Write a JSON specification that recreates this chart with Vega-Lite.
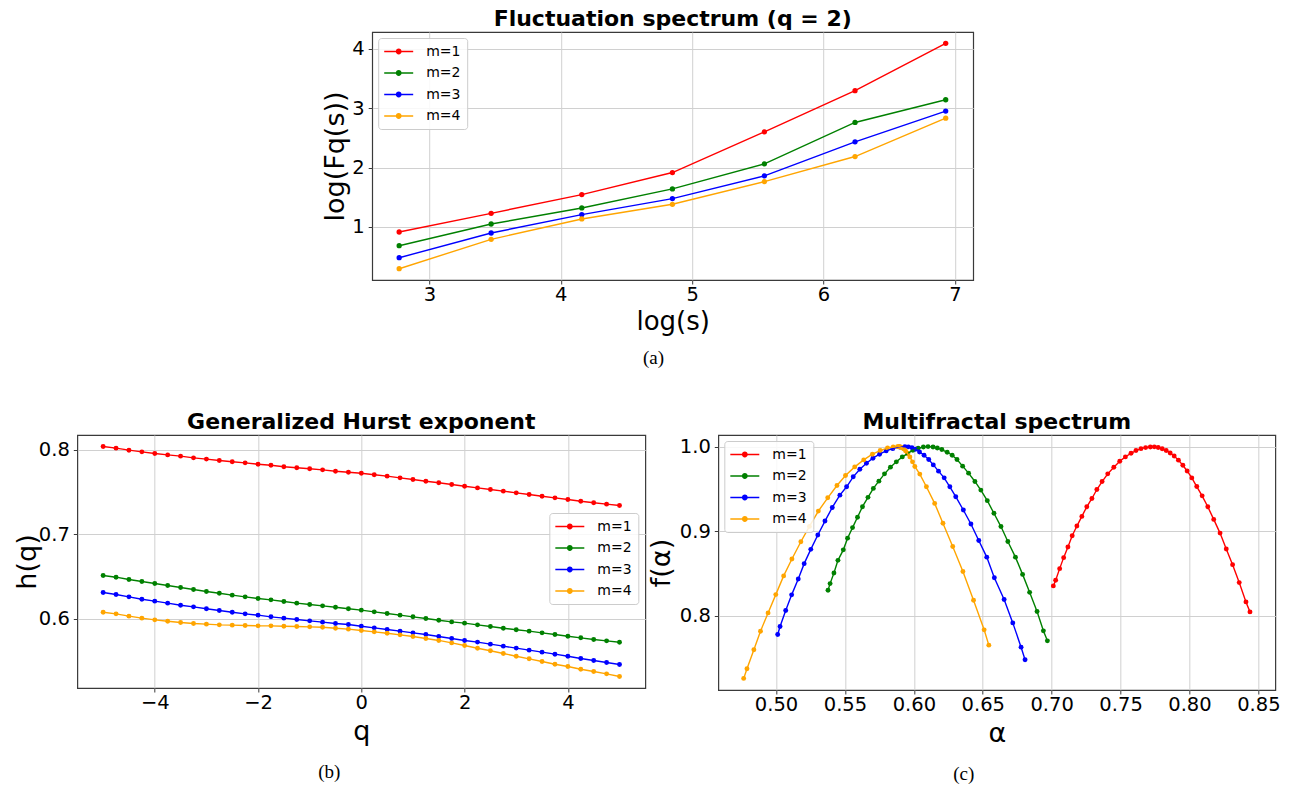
{
  "$schema": "https://vega.github.io/schema/vega-lite/v6.json",
  "padding": {"left": 12, "top": 7, "right": 0, "bottom": 0},
  "background": "white",
  "datasets": {
    "fluct": [
      {"m": "m=1", "x": 2.77, "y": 0.916}, {"m": "m=1", "x": 3.47, "y": 1.23}, {"m": "m=1", "x": 4.16, "y": 1.545}, {"m": "m=1", "x": 4.85, "y": 1.916}, {"m": "m=1", "x": 5.55, "y": 2.601}, {"m": "m=1", "x": 6.24, "y": 3.292}, {"m": "m=1", "x": 6.93, "y": 4.09},
      {"m": "m=2", "x": 2.77, "y": 0.685}, {"m": "m=2", "x": 3.47, "y": 1.05}, {"m": "m=2", "x": 4.16, "y": 1.32}, {"m": "m=2", "x": 4.85, "y": 1.64}, {"m": "m=2", "x": 5.55, "y": 2.062}, {"m": "m=2", "x": 6.24, "y": 2.758}, {"m": "m=2", "x": 6.93, "y": 3.14},
      {"m": "m=3", "x": 2.77, "y": 0.483}, {"m": "m=3", "x": 3.47, "y": 0.899}, {"m": "m=3", "x": 4.16, "y": 1.208}, {"m": "m=3", "x": 4.85, "y": 1.478}, {"m": "m=3", "x": 5.55, "y": 1.86}, {"m": "m=3", "x": 6.24, "y": 2.433}, {"m": "m=3", "x": 6.93, "y": 2.949},
      {"m": "m=4", "x": 2.77, "y": 0.298}, {"m": "m=4", "x": 3.47, "y": 0.792}, {"m": "m=4", "x": 4.16, "y": 1.135}, {"m": "m=4", "x": 4.85, "y": 1.382}, {"m": "m=4", "x": 5.55, "y": 1.764}, {"m": "m=4", "x": 6.24, "y": 2.185}, {"m": "m=4", "x": 6.93, "y": 2.831}
    ],
    "hurst": [
      {"m":"m=1","q":-5,"h":0.804},{"m":"m=1","q":-4.75,"h":0.802},{"m":"m=1","q":-4.5,"h":0.7996},{"m":"m=1","q":-4.25,"h":0.7976},{"m":"m=1","q":-4,"h":0.7957},{"m":"m=1","q":-3.75,"h":0.794},{"m":"m=1","q":-3.5,"h":0.7925},{"m":"m=1","q":-3.25,"h":0.7905},{"m":"m=1","q":-3,"h":0.789},{"m":"m=1","q":-2.75,"h":0.7874},{"m":"m=1","q":-2.5,"h":0.7858},{"m":"m=1","q":-2.25,"h":0.7846},{"m":"m=1","q":-2,"h":0.783},{"m":"m=1","q":-1.75,"h":0.7818},{"m":"m=1","q":-1.5,"h":0.78},{"m":"m=1","q":-1.25,"h":0.7787},{"m":"m=1","q":-1,"h":0.7775},{"m":"m=1","q":-0.75,"h":0.7763},{"m":"m=1","q":-0.5,"h":0.7747},{"m":"m=1","q":-0.25,"h":0.7735},
      {"m":"m=1","q":0,"h":0.7723},{"m":"m=1","q":0.25,"h":0.7704},{"m":"m=1","q":0.5,"h":0.7688},{"m":"m=1","q":0.75,"h":0.7668},{"m":"m=1","q":1,"h":0.7648},{"m":"m=1","q":1.25,"h":0.7628},{"m":"m=1","q":1.5,"h":0.7609},{"m":"m=1","q":1.75,"h":0.7589},{"m":"m=1","q":2,"h":0.7569},{"m":"m=1","q":2.25,"h":0.7549},{"m":"m=1","q":2.5,"h":0.753},{"m":"m=1","q":2.75,"h":0.751},{"m":"m=1","q":3,"h":0.749},{"m":"m=1","q":3.25,"h":0.747},{"m":"m=1","q":3.5,"h":0.745},{"m":"m=1","q":3.75,"h":0.7431},{"m":"m=1","q":4,"h":0.7411},{"m":"m=1","q":4.25,"h":0.7391},{"m":"m=1","q":4.5,"h":0.7372},{"m":"m=1","q":4.75,"h":0.7356},{"m":"m=1","q":5,"h":0.734},
      {"m":"m=2","q":-5,"h":0.651},{"m":"m=2","q":-4.75,"h":0.649},{"m":"m=2","q":-4.5,"h":0.6462},{"m":"m=2","q":-4.25,"h":0.6439},{"m":"m=2","q":-4,"h":0.6415},{"m":"m=2","q":-3.75,"h":0.6391},{"m":"m=2","q":-3.5,"h":0.6368},{"m":"m=2","q":-3.25,"h":0.6344},{"m":"m=2","q":-3,"h":0.632},{"m":"m=2","q":-2.75,"h":0.63},{"m":"m=2","q":-2.5,"h":0.6277},{"m":"m=2","q":-2.25,"h":0.6257},{"m":"m=2","q":-2,"h":0.6237},{"m":"m=2","q":-1.75,"h":0.6221},{"m":"m=2","q":-1.5,"h":0.6202},{"m":"m=2","q":-1.25,"h":0.6182},{"m":"m=2","q":-1,"h":0.6166},{"m":"m=2","q":-0.75,"h":0.615},{"m":"m=2","q":-0.5,"h":0.6134},{"m":"m=2","q":-0.25,"h":0.6115},
      {"m":"m=2","q":0,"h":0.6099},{"m":"m=2","q":0.25,"h":0.6079},{"m":"m=2","q":0.5,"h":0.6059},{"m":"m=2","q":0.75,"h":0.604},{"m":"m=2","q":1,"h":0.602},{"m":"m=2","q":1.25,"h":0.6},{"m":"m=2","q":1.5,"h":0.598},{"m":"m=2","q":1.75,"h":0.596},{"m":"m=2","q":2,"h":0.5945},{"m":"m=2","q":2.25,"h":0.5925},{"m":"m=2","q":2.5,"h":0.5905},{"m":"m=2","q":2.75,"h":0.5885},{"m":"m=2","q":3,"h":0.5866},{"m":"m=2","q":3.25,"h":0.585},{"m":"m=2","q":3.5,"h":0.583},{"m":"m=2","q":3.75,"h":0.581},{"m":"m=2","q":4,"h":0.579},{"m":"m=2","q":4.25,"h":0.5771},{"m":"m=2","q":4.5,"h":0.5751},{"m":"m=2","q":4.75,"h":0.5735},{"m":"m=2","q":5,"h":0.5719},
      {"m":"m=3","q":-5,"h":0.6308},{"m":"m=3","q":-4.75,"h":0.6285},{"m":"m=3","q":-4.5,"h":0.6257},{"m":"m=3","q":-4.25,"h":0.6229},{"m":"m=3","q":-4,"h":0.6206},{"m":"m=3","q":-3.75,"h":0.6182},{"m":"m=3","q":-3.5,"h":0.6158},{"m":"m=3","q":-3.25,"h":0.6138},{"m":"m=3","q":-3,"h":0.6115},{"m":"m=3","q":-2.75,"h":0.6095},{"m":"m=3","q":-2.5,"h":0.6075},{"m":"m=3","q":-2.25,"h":0.6055},{"m":"m=3","q":-2,"h":0.604},{"m":"m=3","q":-1.75,"h":0.602},{"m":"m=3","q":-1.5,"h":0.6004},{"m":"m=3","q":-1.25,"h":0.5988},{"m":"m=3","q":-1,"h":0.5972},{"m":"m=3","q":-0.75,"h":0.5957},{"m":"m=3","q":-0.5,"h":0.5941},{"m":"m=3","q":-0.25,"h":0.5929},
      {"m":"m=3","q":0,"h":0.5909},{"m":"m=3","q":0.25,"h":0.5889},{"m":"m=3","q":0.5,"h":0.587},{"m":"m=3","q":0.75,"h":0.585},{"m":"m=3","q":1,"h":0.583},{"m":"m=3","q":1.25,"h":0.581},{"m":"m=3","q":1.5,"h":0.5787},{"m":"m=3","q":1.75,"h":0.5763},{"m":"m=3","q":2,"h":0.574},{"m":"m=3","q":2.25,"h":0.572},{"m":"m=3","q":2.5,"h":0.5696},{"m":"m=3","q":2.75,"h":0.5672},{"m":"m=3","q":3,"h":0.5649},{"m":"m=3","q":3.25,"h":0.5625},{"m":"m=3","q":3.5,"h":0.5601},{"m":"m=3","q":3.75,"h":0.5577},{"m":"m=3","q":4,"h":0.5553},{"m":"m=3","q":4.25,"h":0.5526},{"m":"m=3","q":4.5,"h":0.5502},{"m":"m=3","q":4.75,"h":0.5478},{"m":"m=3","q":5,"h":0.5455},
      {"m":"m=4","q":-5,"h":0.6075},{"m":"m=4","q":-4.75,"h":0.6055},{"m":"m=4","q":-4.5,"h":0.6028},{"m":"m=4","q":-4.25,"h":0.6004},{"m":"m=4","q":-4,"h":0.5984},{"m":"m=4","q":-3.75,"h":0.5968},{"m":"m=4","q":-3.5,"h":0.5953},{"m":"m=4","q":-3.25,"h":0.5941},{"m":"m=4","q":-3,"h":0.5933},{"m":"m=4","q":-2.75,"h":0.5925},{"m":"m=4","q":-2.5,"h":0.5921},{"m":"m=4","q":-2.25,"h":0.5917},{"m":"m=4","q":-2,"h":0.5913},{"m":"m=4","q":-1.75,"h":0.5913},{"m":"m=4","q":-1.5,"h":0.5909},{"m":"m=4","q":-1.25,"h":0.5905},{"m":"m=4","q":-1,"h":0.5901},{"m":"m=4","q":-0.75,"h":0.5897},{"m":"m=4","q":-0.5,"h":0.5885},{"m":"m=4","q":-0.25,"h":0.5874},
      {"m":"m=4","q":0,"h":0.5858},{"m":"m=4","q":0.25,"h":0.5842},{"m":"m=4","q":0.5,"h":0.5826},{"m":"m=4","q":0.75,"h":0.5806},{"m":"m=4","q":1,"h":0.5787},{"m":"m=4","q":1.25,"h":0.5763},{"m":"m=4","q":1.5,"h":0.574},{"m":"m=4","q":1.75,"h":0.5711},{"m":"m=4","q":2,"h":0.568},{"m":"m=4","q":2.25,"h":0.5648},{"m":"m=4","q":2.5,"h":0.5617},{"m":"m=4","q":2.75,"h":0.5585},{"m":"m=4","q":3,"h":0.5553},{"m":"m=4","q":3.25,"h":0.5522},{"m":"m=4","q":3.5,"h":0.549},{"m":"m=4","q":3.75,"h":0.5458},{"m":"m=4","q":4,"h":0.5431},{"m":"m=4","q":4.25,"h":0.5399},{"m":"m=4","q":4.5,"h":0.5372},{"m":"m=4","q":4.75,"h":0.5344},{"m":"m=4","q":5,"h":0.5312}
    ],
    "spectrum": [
      {"m":"m=1","i":0,"a":0.7012,"f":0.8354},{"m":"m=1","i":1,"a":0.7029,"f":0.842},{"m":"m=1","i":2,"a":0.7058,"f":0.8558},{"m":"m=1","i":3,"a":0.7087,"f":0.8688},{"m":"m=1","i":4,"a":0.7118,"f":0.8813},{"m":"m=1","i":5,"a":0.7149,"f":0.8947},{"m":"m=1","i":6,"a":0.7183,"f":0.9061},{"m":"m=1","i":7,"a":0.7219,"f":0.9175},{"m":"m=1","i":8,"a":0.7255,"f":0.9289},{"m":"m=1","i":9,"a":0.7292,"f":0.9387},{"m":"m=1","i":10,"a":0.7328,"f":0.9493},{"m":"m=1","i":11,"a":0.7366,"f":0.9587},{"m":"m=1","i":12,"a":0.7407,"f":0.9678},{"m":"m=1","i":13,"a":0.7451,"f":0.9756},{"m":"m=1","i":14,"a":0.7494,"f":0.9827},{"m":"m=1","i":15,"a":0.7535,"f":0.9878},{"m":"m=1","i":16,"a":0.7576,"f":0.9921},{"m":"m=1","i":17,"a":0.7612,"f":0.9953},{"m":"m=1","i":18,"a":0.7648,"f":0.9976},{"m":"m=1","i":19,"a":0.7682,"f":0.9988},{"m":"m=1","i":20,"a":0.7716,"f":0.9996},
      {"m":"m=1","i":21,"a":0.7745,"f":0.9997},{"m":"m=1","i":22,"a":0.7773,"f":0.9989},{"m":"m=1","i":23,"a":0.7802,"f":0.9974},{"m":"m=1","i":24,"a":0.7831,"f":0.9953},{"m":"m=1","i":25,"a":0.786,"f":0.9925},{"m":"m=1","i":26,"a":0.7889,"f":0.9888},{"m":"m=1","i":27,"a":0.792,"f":0.984},{"m":"m=1","i":28,"a":0.7952,"f":0.978},{"m":"m=1","i":29,"a":0.7983,"f":0.9712},{"m":"m=1","i":30,"a":0.8017,"f":0.963},{"m":"m=1","i":31,"a":0.8053,"f":0.9528},{"m":"m=1","i":32,"a":0.8092,"f":0.9418},{"m":"m=1","i":33,"a":0.8133,"f":0.9289},{"m":"m=1","i":34,"a":0.8176,"f":0.914},{"m":"m=1","i":35,"a":0.8222,"f":0.8978},{"m":"m=1","i":36,"a":0.8267,"f":0.879},{"m":"m=1","i":37,"a":0.8313,"f":0.8605},{"m":"m=1","i":38,"a":0.8361,"f":0.8393},{"m":"m=1","i":39,"a":0.841,"f":0.8165},{"m":"m=1","i":40,"a":0.8439,"f":0.8047},
      {"m":"m=2","i":0,"a":0.5377,"f":0.8303},{"m":"m=2","i":1,"a":0.5392,"f":0.8381},{"m":"m=2","i":2,"a":0.542,"f":0.8507},{"m":"m=2","i":3,"a":0.5449,"f":0.8656},{"m":"m=2","i":4,"a":0.5488,"f":0.878},{"m":"m=2","i":5,"a":0.5519,"f":0.8918},{"m":"m=2","i":6,"a":0.5555,"f":0.9043},{"m":"m=2","i":7,"a":0.5591,"f":0.9165},{"m":"m=2","i":8,"a":0.5627,"f":0.929},{"m":"m=2","i":9,"a":0.5667,"f":0.94},{"m":"m=2","i":10,"a":0.5706,"f":0.9506},{"m":"m=2","i":11,"a":0.5746,"f":0.9592},{"m":"m=2","i":12,"a":0.5787,"f":0.9678},{"m":"m=2","i":13,"a":0.583,"f":0.9757},{"m":"m=2","i":14,"a":0.5873,"f":0.982},{"m":"m=2","i":15,"a":0.5916,"f":0.9878},{"m":"m=2","i":16,"a":0.5955,"f":0.9918},{"m":"m=2","i":17,"a":0.5993,"f":0.9957},{"m":"m=2","i":18,"a":0.6031,"f":0.998},{"m":"m=2","i":19,"a":0.6069,"f":0.9996},{"m":"m=2","i":20,"a":0.6103,"f":1.0},
      {"m":"m=2","i":21,"a":0.6139,"f":0.9996},{"m":"m=2","i":22,"a":0.617,"f":0.9984},{"m":"m=2","i":23,"a":0.6203,"f":0.9965},{"m":"m=2","i":24,"a":0.6242,"f":0.9933},{"m":"m=2","i":25,"a":0.6278,"f":0.9898},{"m":"m=2","i":26,"a":0.6313,"f":0.9847},{"m":"m=2","i":27,"a":0.6354,"f":0.9769},{"m":"m=2","i":28,"a":0.6397,"f":0.9686},{"m":"m=2","i":29,"a":0.6443,"f":0.9588},{"m":"m=2","i":30,"a":0.6486,"f":0.9486},{"m":"m=2","i":31,"a":0.6533,"f":0.9361},{"m":"m=2","i":32,"a":0.6581,"f":0.9212},{"m":"m=2","i":33,"a":0.6632,"f":0.9055},{"m":"m=2","i":34,"a":0.6682,"f":0.8878},{"m":"m=2","i":35,"a":0.6737,"f":0.8694},{"m":"m=2","i":36,"a":0.6789,"f":0.849},{"m":"m=2","i":37,"a":0.684,"f":0.8278},{"m":"m=2","i":38,"a":0.6894,"f":0.8051},{"m":"m=2","i":39,"a":0.694,"f":0.7823},{"m":"m=2","i":40,"a":0.6969,"f":0.7705},
      {"m":"m=3","i":0,"a":0.5012,"f":0.778},{"m":"m=3","i":1,"a":0.5029,"f":0.7874},{"m":"m=3","i":2,"a":0.507,"f":0.8063},{"m":"m=3","i":3,"a":0.5113,"f":0.8248},{"m":"m=3","i":4,"a":0.5161,"f":0.8436},{"m":"m=3","i":5,"a":0.5204,"f":0.8617},{"m":"m=3","i":6,"a":0.5252,"f":0.8786},{"m":"m=3","i":7,"a":0.5303,"f":0.8955},{"m":"m=3","i":8,"a":0.5355,"f":0.912},{"m":"m=3","i":9,"a":0.5408,"f":0.9281},{"m":"m=3","i":10,"a":0.5463,"f":0.9426},{"m":"m=3","i":11,"a":0.5512,"f":0.9525},{"m":"m=3","i":12,"a":0.556,"f":0.9643},{"m":"m=3","i":13,"a":0.5608,"f":0.9733},{"m":"m=3","i":14,"a":0.5656,"f":0.9804},{"m":"m=3","i":15,"a":0.5703,"f":0.9863},{"m":"m=3","i":16,"a":0.5751,"f":0.991},{"m":"m=3","i":17,"a":0.5799,"f":0.9949},{"m":"m=3","i":18,"a":0.5847,"f":0.9976},{"m":"m=3","i":19,"a":0.5895,"f":0.9996},{"m":"m=3","i":20,"a":0.5935,"f":1.0},
      {"m":"m=3","i":21,"a":0.596,"f":0.9997},{"m":"m=3","i":22,"a":0.5986,"f":0.9988},{"m":"m=3","i":23,"a":0.6012,"f":0.9969},{"m":"m=3","i":24,"a":0.6041,"f":0.9937},{"m":"m=3","i":25,"a":0.6074,"f":0.9898},{"m":"m=3","i":26,"a":0.6108,"f":0.9847},{"m":"m=3","i":27,"a":0.6141,"f":0.9784},{"m":"m=3","i":28,"a":0.6179,"f":0.971},{"m":"m=3","i":29,"a":0.622,"f":0.9631},{"m":"m=3","i":30,"a":0.6261,"f":0.9525},{"m":"m=3","i":31,"a":0.6304,"f":0.9408},{"m":"m=3","i":32,"a":0.6359,"f":0.9251},{"m":"m=3","i":33,"a":0.6414,"f":0.9086},{"m":"m=3","i":34,"a":0.6471,"f":0.889},{"m":"m=3","i":35,"a":0.6529,"f":0.8694},{"m":"m=3","i":36,"a":0.6584,"f":0.8451},{"m":"m=3","i":37,"a":0.6655,"f":0.8193},{"m":"m=3","i":38,"a":0.6718,"f":0.7917},{"m":"m=3","i":39,"a":0.6778,"f":0.763},{"m":"m=3","i":40,"a":0.6807,"f":0.7481},
      {"m":"m=4","i":0,"a":0.4765,"f":0.7261},{"m":"m=4","i":1,"a":0.4789,"f":0.7375},{"m":"m=4","i":2,"a":0.4839,"f":0.7599},{"m":"m=4","i":3,"a":0.4887,"f":0.7819},{"m":"m=4","i":4,"a":0.4942,"f":0.8035},{"m":"m=4","i":5,"a":0.4998,"f":0.8251},{"m":"m=4","i":6,"a":0.5055,"f":0.8472},{"m":"m=4","i":7,"a":0.5115,"f":0.8672},{"m":"m=4","i":8,"a":0.518,"f":0.8876},{"m":"m=4","i":9,"a":0.5242,"f":0.9057},{"m":"m=4","i":10,"a":0.5307,"f":0.9238},{"m":"m=4","i":11,"a":0.5375,"f":0.9395},{"m":"m=4","i":12,"a":0.5442,"f":0.954},{"m":"m=4","i":13,"a":0.5504,"f":0.9658},{"m":"m=4","i":14,"a":0.5571,"f":0.976},{"m":"m=4","i":15,"a":0.5636,"f":0.9843},{"m":"m=4","i":16,"a":0.5699,"f":0.991},{"m":"m=4","i":17,"a":0.5756,"f":0.9953},{"m":"m=4","i":18,"a":0.5809,"f":0.9984},{"m":"m=4","i":19,"a":0.585,"f":0.9996},{"m":"m=4","i":20,"a":0.5881,"f":1.0},
      {"m":"m=4","i":21,"a":0.5888,"f":1.0},{"m":"m=4","i":22,"a":0.5895,"f":0.9999},{"m":"m=4","i":23,"a":0.5902,"f":0.9996},{"m":"m=4","i":24,"a":0.5906,"f":0.9993},{"m":"m=4","i":25,"a":0.5911,"f":0.9988},{"m":"m=4","i":26,"a":0.5926,"f":0.9973},{"m":"m=4","i":27,"a":0.594,"f":0.9949},{"m":"m=4","i":28,"a":0.5955,"f":0.9918},{"m":"m=4","i":29,"a":0.5971,"f":0.9878},{"m":"m=4","i":30,"a":0.599,"f":0.982},{"m":"m=4","i":31,"a":0.6007,"f":0.9765},{"m":"m=4","i":32,"a":0.6043,"f":0.9675},{"m":"m=4","i":33,"a":0.6091,"f":0.9525},{"m":"m=4","i":34,"a":0.6151,"f":0.9329},{"m":"m=4","i":35,"a":0.6211,"f":0.9094},{"m":"m=4","i":36,"a":0.6282,"f":0.882},{"m":"m=4","i":37,"a":0.6356,"f":0.8525},{"m":"m=4","i":38,"a":0.6433,"f":0.8185},{"m":"m=4","i":39,"a":0.651,"f":0.7835},{"m":"m=4","i":40,"a":0.6544,"f":0.7654}
    ]
  },
  "vconcat": [
    {
      "title": {"text": "(a)", "orient": "bottom", "frame": "bounds", "anchor": "middle", "font": "Liberation Serif", "fontSize": 19, "fontWeight": "normal", "offset": 14},
      "vconcat": [
        {
          "width": 601,
          "height": 248,
          "title": {"text": "Fluctuation spectrum (q = 2)", "offset": 1},
          "data": {"name": "fluct"},
          "encoding": {
            "x": {"field": "x", "type": "quantitative", "scale": {"domain": [2.5647, 7.1394], "nice": false, "zero": false}, "axis": {"values": [3, 4, 5, 6, 7], "format": "d", "title": "log(s)", "titleFontSize": 26, "titlePadding": 5, "labelPadding": 1}},
            "color": {"field": "m", "type": "nominal", "scale": {"domain": ["m=1", "m=2", "m=3", "m=4"], "range": ["#ff0000", "#008000", "#0000ff", "#ffa500"]},
              "legend": {"title": null, "orient": "top-left", "offset": 6}}
          },
          "layer": [
            {"mark": {"type": "point", "filled": true, "size": 28, "opacity": 1},
             "encoding": {"y": {"field": "y", "type": "quantitative", "scale": {"domain": [0.1084, 4.2796], "nice": false, "zero": false}, "axis": {"values": [1, 2, 3, 4], "format": "d", "title": "log(Fq(s))", "titlePadding": 2}}}},
            {"mark": {"type": "line", "strokeWidth": 1.4},
             "encoding": {"y": {"field": "y", "type": "quantitative", "scale": {"domain": [0.1084, 4.2796], "nice": false, "zero": false}, "axis": {"orient": "right", "values": [1, 2, 3, 4], "labels": false, "grid": false, "domain": false, "title": null, "tickSize": 12, "tickOpacity": 0}}}}
          ],
          "resolve": {"scale": {"y": "independent"}, "axis": {"y": "independent"}}
        }
      ]
    },
    {
      "hconcat": [
        {
          "title": {"text": "(b)", "orient": "bottom", "frame": "bounds", "anchor": "middle", "font": "Liberation Serif", "fontSize": 19, "fontWeight": "normal", "offset": 18},
          "vconcat": [
            {
              "width": 568,
              "height": 253,
              "title": {"text": "Generalized Hurst exponent", "offset": 1},
              "data": {"name": "hurst"},
              "encoding": {
                "x": {"field": "q", "type": "quantitative", "scale": {"domain": [-5.5, 5.5], "nice": false, "zero": false}, "axis": {"values": [-4, -2, 0, 2, 4], "format": "d", "title": "q", "titlePadding": 7, "labelPadding": 1}},
                "y": {"field": "h", "type": "quantitative", "scale": {"domain": [0.5176, 0.8176], "nice": false, "zero": false}, "axis": {"values": [0.6, 0.7, 0.8], "format": ".1f", "title": "h(q)", "titlePadding": -3}},
                "color": {"field": "m", "type": "nominal", "scale": {"domain": ["m=1", "m=2", "m=3", "m=4"], "range": ["#ff0000", "#008000", "#0000ff", "#ffa500"]},
                  "legend": {"title": null, "orient": "none", "legendX": 472, "legendY": 78}}
              },
              "layer": [
                {"mark": {"type": "point", "filled": true, "size": 24, "opacity": 1}},
                {"mark": {"type": "line", "strokeWidth": 1.4}}
              ]
            }
          ]
        },
        {
          "title": {"text": "(c)", "orient": "bottom", "frame": "bounds", "anchor": "middle", "font": "Liberation Serif", "fontSize": 19, "fontWeight": "normal", "offset": 18},
          "vconcat": [
            {
              "width": 557,
              "height": 255,
              "title": {"text": "Multifractal spectrum", "offset": 1},
              "data": {"name": "spectrum"},
              "encoding": {
                "x": {"field": "a", "type": "quantitative", "scale": {"domain": [0.4581, 0.8623], "nice": false, "zero": false}, "axis": {"values": [0.5, 0.55, 0.6, 0.65, 0.7, 0.75, 0.8, 0.85], "format": ".2f", "title": "α", "titlePadding": 7, "labelPadding": 1}},
                "y": {"field": "f", "type": "quantitative", "scale": {"domain": [0.7124, 1.0137], "nice": false, "zero": false}, "axis": {"values": [0.8, 0.9, 1.0], "format": ".1f", "title": "f(α)", "titlePadding": 4}},
                "color": {"field": "m", "type": "nominal", "scale": {"domain": ["m=1", "m=2", "m=3", "m=4"], "range": ["#ff0000", "#008000", "#0000ff", "#ffa500"]},
                  "legend": {"title": null, "orient": "top-left", "offset": 6}}
              },
              "layer": [
                {"mark": {"type": "point", "filled": true, "size": 24, "opacity": 1}},
                {"mark": {"type": "line", "strokeWidth": 1.4}, "encoding": {"order": {"field": "i", "type": "quantitative"}}}
              ]
            }
          ]
        }
      ],
      "spacing": 0,
      "resolve": {"scale": {"color": "independent"}, "legend": {"color": "independent"}}
    }
  ],
  "spacing": 41,
  "center": true,
  "resolve": {"scale": {"color": "independent"}, "legend": {"color": "independent"}},
  "config": {
    "font": "DejaVu Sans",
    "view": {"stroke": "#3a3a3a", "strokeWidth": 1.2},
    "axis": {
      "grid": true, "gridColor": "#d0d0d0", "gridWidth": 1, "domain": false,
      "ticks": true, "tickColor": "#3a3a3a", "tickSize": 4, "tickWidth": 1,
      "labelFont": "DejaVu Sans", "labelFontSize": 19.5, "labelColor": "#000000", "labelPadding": 4,
      "titleFont": "DejaVu Sans", "titleFontSize": 27, "titleFontWeight": "normal", "titleColor": "#000000", "titlePadding": 4
    },
    "title": {"font": "DejaVu Sans", "fontSize": 22, "fontWeight": "bold", "color": "#000000", "anchor": "middle"},
    "legend": {
      "symbolType": "M-2,-0.09L2,-0.09L2,0.09L-2,0.09ZM-0.4,0A0.4,0.4,0,1,1,0.4,0A0.4,0.4,0,1,1,-0.4,0Z",
      "symbolSize": 210, "symbolOffset": 7, "symbolStrokeWidth": 0, "symbolOpacity": 1,
      "labelOffset": 20, "labelFont": "DejaVu Sans", "labelFontSize": 14, "labelColor": "#000000",
      "rowPadding": 6.5, "padding": 6, "strokeColor": "#cccccc", "fillColor": "rgba(255,255,255,0.85)", "cornerRadius": 3
    }
  }
}
